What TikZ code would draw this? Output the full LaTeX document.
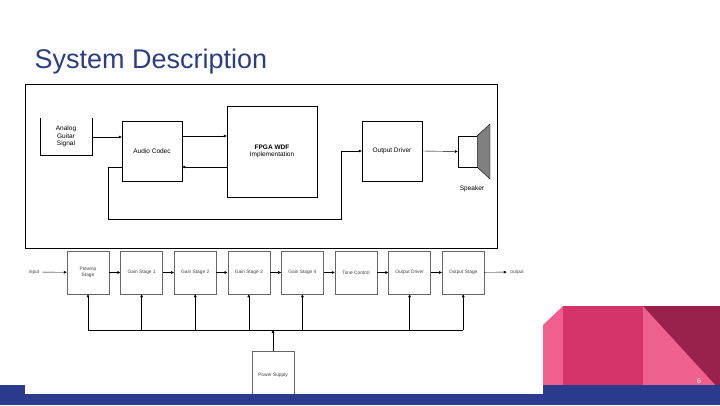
\documentclass[tikz,border=0pt]{standalone}
\usepackage{fontspec}
\setmainfont{Liberation Sans}
\usetikzlibrary{arrows.meta,positioning}
\definecolor{titleblue}{RGB}{44,62,130}
\definecolor{bandblue}{RGB}{42,58,140}
\definecolor{lightpink}{RGB}{240,96,142}
\definecolor{midpink}{RGB}{212,52,106}
\definecolor{maroon}{RGB}{152,34,76}
\tikzset{
  blk/.style={draw, thin, minimum width=60pt, minimum height=60pt, font=\fontsize{6.5}{7.5}\selectfont, align=center},
  stg/.style={draw=black!60, thin, minimum width=42pt, minimum height=43pt, font=\fontsize{4.8}{5.5}\selectfont\color{black!75}, align=center},
  sig/.style={-{Latex[length=3pt,width=3pt]}, thin}
}
\begin{document}
\begin{tikzpicture}[x=1pt,y=-1pt]
  \useasboundingbox (0,0) rectangle (720,405);
  % title
  \node[anchor=base west, text=titleblue, font=\fontsize{27}{30}\selectfont] (title) at (31,68) {System Description};

  % upper diagram
  \draw[thin] (25,84) rectangle (497,248);
  \node[blk, minimum width=52pt, minimum height=37pt, draw=none] (gtr) at (66,136.5) {Analog\\Guitar\\Signal};
  \draw[thin] (gtr.north west) -- (gtr.south west) -- (gtr.south east) -- (gtr.north east);
  \node[blk] (codec) at (152,151) {Audio Codec};
  \node[blk, minimum width=90pt, minimum height=91pt] (fpga) at (272,151.5) {\textbf{FPGA WDF}\\Implementation};
  \node[blk] (drv) at (392,151) {Output Driver};
  \node[draw, thin, minimum width=19pt, minimum height=31pt, inner sep=0pt] (spk) at (467.5,151.5) {};
  \draw[thin, fill=black!50] (spk.north east) -- (490,124) -- (490,179) -- (spk.south east) -- cycle;
  \node[font=\fontsize{6.5}{7.5}\selectfont] (spklbl) at (472,189) {Speaker};

  \draw[sig] (gtr.east |- 0,137) -- (codec.west |- 0,137);
  \draw[sig] (codec.east |- 0,136) -- (fpga.west |- 0,136);
  \draw[sig] (fpga.west |- 0,167) -- (codec.east |- 0,167);
  \coordinate (fbA) at (108,219);
  \coordinate (fbB) at (341,219);
  \draw[sig] (codec.west |- 0,167) -| (fbA) -- (fbB) |- (drv.west);
  \draw[sig] (drv.east) -- (spk.west);

  % lower chain
  \foreach \n/\t [count=\i from 0] in {pre/Preamp\\Stage, g1/Gain Stage 1, g2/Gain Stage 2, g3/Gain Stage 3,
      g4/Gain Stage 4, tone/Tone Control, od/Output Driver, os/Output Stage}
    \node[stg] (\n) at (88+53.6*\i,272.5) {\t};
  \node[font=\fontsize{4.8}{5.5}\selectfont\color{black!75}] (in) at (34,272) {input};
  \node[font=\fontsize{4.8}{5.5}\selectfont\color{black!75}] (out) at (517,272) {output};
  \draw[sig] (in) -- (pre);
  \foreach \a/\b in {pre/g1, g1/g2, g2/g3, g3/g4, g4/tone, tone/od, od/os}
    \draw[sig] (\a) -- (\b);
  \draw[sig] (os) -- (out);

  \node[stg, minimum height=48pt] (psu) at (273,375) {Power Supply};
  \coordinate (busL) at (88,330);
  \coordinate (busR) at (463,330);
  \draw[thin] (busL) -- (busR);
  \draw[sig] (psu.north) -- (psu.north |- busL);
  \foreach \n in {pre, g1, g2, g3, g4, od, os}
    \draw[sig] (\n.center |- busL) -- (\n.south);

  % slide decoration
  \fill[lightpink] (543,325) -- (563,306) -- (720,306) -- (720,393) -- (543,393) -- cycle;
  \fill[midpink] (563,306) rectangle (643,393);
  \fill[maroon] (643,306) -- (720,306) -- (720,390) -- cycle;
  \fill[bandblue] (543,385) rectangle (720,405);
  \fill[bandblue] (0,394) rectangle (720,405);
  \fill[bandblue] (0,385) rectangle (25,405);
  \node[text=white, font=\fontsize{7}{8}\selectfont] (pg) at (699,381) {6};
\end{tikzpicture}
\end{document}
